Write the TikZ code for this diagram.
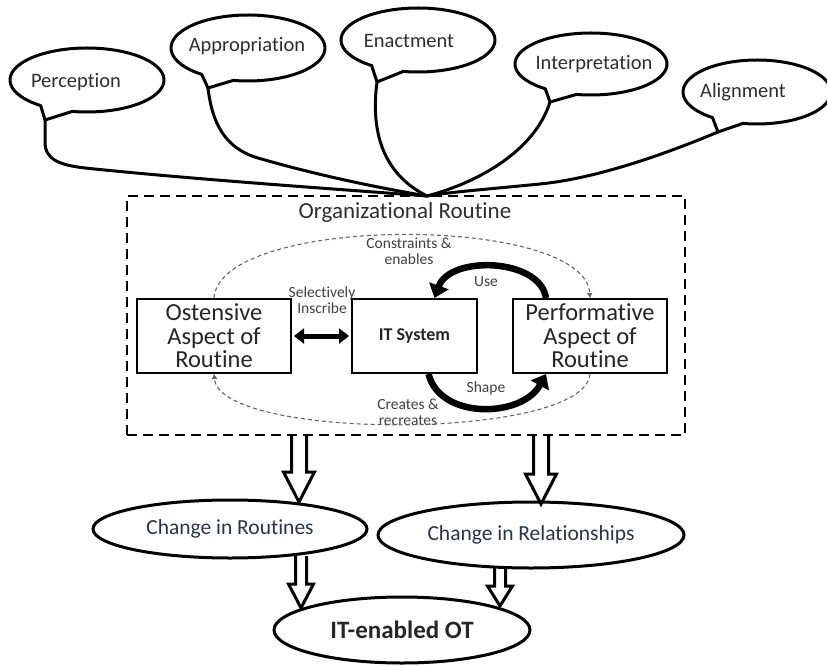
\documentclass[tikz,border=0pt]{standalone}
\usepackage{fontspec}
\setmainfont{Carlito}[Ligatures=CommonOff]
\usetikzlibrary{arrows.meta,calc,shapes.geometric}
\definecolor{lowtext}{HTML}{2A3442}
\definecolor{softtext}{HTML}{2E2E2E}
\newcommand\hollowdown[5]{%
  \draw[hollow] ($(#1)+(-#3,0)$) -- ($(#2)+(-#3,-#5)$) -- ($(#2)+(-#4,-#5)$) -- (#2)
    -- ($(#2)+(#4,-#5)$) -- ($(#2)+(#3,-#5)$) -- ($(#1)+(#3,0)$);}
\begin{document}
\begin{tikzpicture}[x=1pt,y=-1pt,
  bubble/.style={draw=black,line width=3pt,fill=white,line join=round},
  bubtext/.style={font=\fontsize{20.5}{24}\selectfont,text=softtext,inner sep=0pt},
  link/.style={draw=black,line width=3pt,line cap=round},
  box/.style={draw=black,line width=2pt,fill=white,minimum height=74pt,align=center,
    font=\fontsize{24.5}{23.5}\selectfont,text=black!85,inner sep=2pt},
  small/.style={font=\fontsize{15.5}{16}\selectfont,text=black!75,align=center,inner sep=0pt},
  oval/.style={ellipse,draw=black,line width=3pt,inner sep=0pt,text=lowtext},
  hollow/.style={draw=black,line width=3pt,line join=miter},
  curvearrow/.style={draw=black,line width=6.5pt,-{Triangle[length=13pt,width=20pt]}},
  cyclearc/.style={draw=black!60,line width=1.1pt,dash pattern=on 4pt off 3pt,
    -{Triangle[length=5pt,width=5pt]}}
]
\useasboundingbox (0,0) rectangle (827,666);

% ---------- speech bubbles ----------
\coordinate (ptip)  at (45,120);
\coordinate (aptip) at (208,88);
\coordinate (etip)  at (377,82);
\coordinate (itip)  at (550,102);
\coordinate (altip) at (718,132);
\coordinate (hub)   at (427,196);

\draw[bubble] (87,80) ++(127:77 and 32) arc[start angle=127,end angle=461,x radius=77,y radius=32] -- (ptip) -- cycle;
\draw[bubble] (248,48) ++(127:77 and 33) arc[start angle=127,end angle=461,x radius=77,y radius=33] -- (aptip) -- cycle;
\draw[bubble] (418,40) ++(127:77 and 32) arc[start angle=127,end angle=461,x radius=77,y radius=32] -- (etip) -- cycle;
\draw[bubble] (591,64) ++(127:76 and 31) arc[start angle=127,end angle=461,x radius=76,y radius=31] -- (itip) -- cycle;
\draw[bubble] (757,92) ++(127:74 and 32) arc[start angle=127,end angle=461,x radius=74,y radius=32] -- (altip) -- cycle;

\node[bubtext] (perc)  at (76,82)  {Perception};
\node[bubtext] (appr)  at (247,46) {Appropriation};
\node[bubtext] (enact) at (409,41) {Enactment};
\node[bubtext] (interp) at (594,64) {Interpretation};
\node[bubtext] (align) at (743,92) {Alignment};

% ---------- connectors to hub ----------
\draw[link] (ptip) -- (45,142) .. controls (45,160) and (60,165) .. (85,168) .. controls (200,180) and (350,190) .. (hub);
\draw[link] (aptip) .. controls (212,122) and (224,148) .. (258,158) .. controls (320,176) and (380,188) .. (hub);
\draw[link] (etip) .. controls (370,135) and (385,175) .. (hub);
\draw[link] (itip) .. controls (535,150) and (480,182) .. (hub);
\draw[link] (altip) .. controls (670,152) and (600,178) .. (540,184) .. controls (490,189) and (450,192) .. (hub);

% ---------- organisational routine box ----------
\node[draw=black,line width=2.5pt,dash pattern=on 10pt off 6pt,minimum width=558pt,minimum height=239pt,inner sep=0pt] (orgbox) at (406,315.5) {};
\node[font=\fontsize{23}{26}\selectfont,text=softtext,inner sep=0pt] (orgtitle) at (405,212) {Organizational Routine};

\node[box,minimum width=154pt] (ost) at (214,336) {Ostensive\\Aspect of\\Routine};
\node[box,minimum width=125pt,font=\bfseries\fontsize{18}{20}\selectfont] (its) at (414.5,336) {IT System};
\node[box,minimum width=154pt] (perf) at (590,336) {Performative\\Aspect of\\Routine};

\draw[line width=5pt,shorten <=2pt,shorten >=2pt,{Triangle[length=10pt,width=15pt]}-{Triangle[length=10pt,width=15pt]}] (ost.east) -- (its.west);

\node[small] (selin)  at (322,300) {Selectively\\Inscribe};
\node[small] (consen) at (409,251) {Constraints \&\\enables};
\node[small] (crerec) at (408,412) {Creates \&\\recreates};
\node[small] (uselbl) at (486,282) {Use};
\node[small] (shapelbl) at (486,388) {Shape};

\draw[cyclearc] (ost.north) .. controls (220,214) and (585,214) .. (perf.north);
\draw[cyclearc] (perf.south) .. controls (585,441) and (220,441) .. (ost.south);

\draw[curvearrow] ($(perf.north west)+(34,0)$) .. controls (540,258) and (450,255) .. ($(its.north)+(20,0)$);
\draw[curvearrow] ($(its.south)+(14,0)$) .. controls (440,420) and (522,418) .. ($(perf.south west)+(34,0)$);

% ---------- outcomes ----------
\node[oval,minimum width=274pt,minimum height=58pt,font=\fontsize{21.5}{24}\selectfont] (routines) at (230,529) {Change in Routines};
\node[oval,minimum width=306pt,minimum height=66pt,font=\fontsize{21.5}{24}\selectfont] (relations) at (531,535) {Change in Relationships};
\node[oval,minimum width=256pt,minimum height=66pt,font=\bfseries\fontsize{25}{28}\selectfont,text=black!85] (itot) at (402,630) {IT-enabled OT};

\coordinate (b1top) at (299,436); \coordinate (b1tip) at (299,502);
\coordinate (b2top) at (541,436); \coordinate (b2tip) at (541,504);
\coordinate (s1top) at (301,556); \coordinate (s1tip) at (301,608);
\coordinate (s2top) at (500,568); \coordinate (s2tip) at (500,606);
\hollowdown{b1top}{b1tip}{7.5}{15.5}{30}
\hollowdown{b2top}{b2tip}{7.5}{15.5}{30}
\hollowdown{s1top}{s1tip}{5.5}{12.5}{24}
\hollowdown{s2top}{s2tip}{5.5}{12.5}{20}
\end{tikzpicture}
\end{document}
